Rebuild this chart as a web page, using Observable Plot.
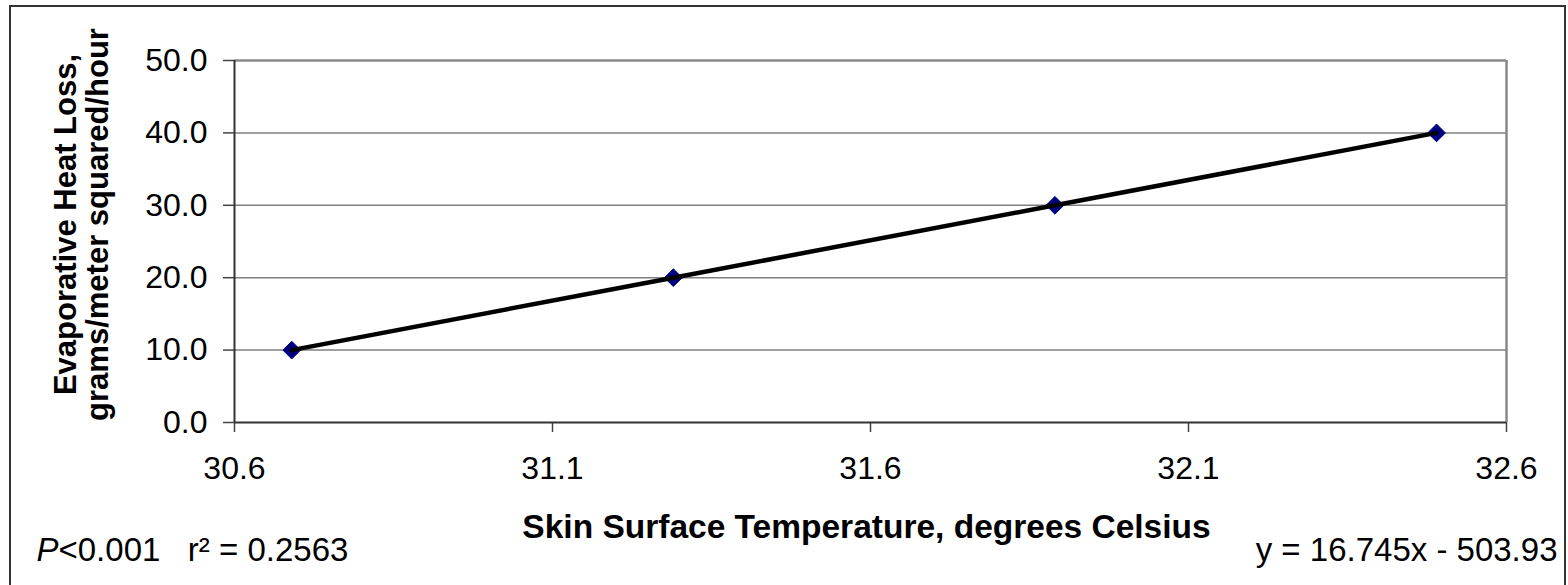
<!DOCTYPE html>
<html>
<head>
<meta charset="utf-8">
<script src="https://cdn.jsdelivr.net/npm/d3@7"></script>
<script src="https://cdn.jsdelivr.net/npm/@observablehq/plot@0.6"></script>
<style>
  html, body { margin: 0; padding: 0; background: #fff; }
  #wrap { position: relative; width: 1568px; height: 585px; overflow: hidden; }
  #border { position: absolute; left: 9px; top: 5px; width: 1553px; height: 600px;
            border: 2px solid #333; pointer-events: none; }
</style>
</head>
<body>
<div id="wrap"><div id="border"></div></div>
<script>
// Data
const temperature = [30.69, 31.29, 31.89, 32.49];
const heatLoss = [10, 20, 30, 40];
const xTicks = [30.6, 31.1, 31.6, 32.1, 32.6];
const yTicks = [0, 10, 20, 30, 40, 50];
const xTitle = "Skin Surface Temperature, degrees Celsius";
const yTitle = "Evaporative Heat Loss,\ngrams/meter squared/hour";
const statsP = "P";
const statsRest = "<0.001   r² = 0.2563";
const equation = "y = 16.745x - 503.93";

const data = temperature.map((t, i) => ({x: t, y: heatLoss[i]}));
const fmt = d => d.toFixed(1);

const chart = Plot.plot({
  width: 1568,
  height: 585,
  marginLeft: 234,
  marginRight: 62,
  marginTop: 60,
  marginBottom: 163,
  style: {fontFamily: "'Liberation Sans', Arial, sans-serif", fontSize: "32px", color: "#000", background: "transparent"},
  x: {domain: [30.6, 32.6]},
  y: {domain: [0, 50]},
  marks: [
    Plot.gridY(yTicks.slice(1, -1), {stroke: "#808080", strokeOpacity: 1, strokeWidth: 1.5}),
    Plot.ruleY([50], {stroke: "#888", strokeWidth: 2.5}),
    Plot.ruleX([32.6], {stroke: "#888", strokeWidth: 2.5}),
    Plot.axisY({ticks: yTicks, tickSize: 11, tickPadding: 16, tickFormat: fmt, label: null, stroke: "#444", strokeWidth: 1.5, fontSize: 32}),
    Plot.axisX({ticks: xTicks, tickSize: 10, tickPadding: 24, tickFormat: fmt, label: null, stroke: "#444", strokeWidth: 1.5, fontSize: 32}),
    Plot.ruleX([30.6], {stroke: "#333", strokeWidth: 2}),
    Plot.ruleY([0], {stroke: "#333", strokeWidth: 2}),
    Plot.dot(data, {x: "x", y: "y", symbol: "diamond2", r: 8, fill: "#000080", stroke: "#000080", strokeWidth: 1}),
    Plot.line(data, {x: "x", y: "y", stroke: "#000", strokeWidth: 4.5}),
    Plot.text([xTitle], {frameAnchor: "bottom", dx: -4, dy: 115, lineAnchor: "bottom", textAnchor: "middle", fontWeight: "bold", fontSize: 33.5}),
    Plot.text([yTitle], {frameAnchor: "left", dx: -153, dy: -17, rotate: -90, textAnchor: "middle", lineAnchor: "middle", lineHeight: 1.06, fontWeight: "bold", fontSize: 31}),
    Plot.text([statsP], {frameAnchor: "bottom-left", dx: -198, dy: 138, lineAnchor: "bottom", textAnchor: "start", fontStyle: "italic", fontSize: 33}),
    Plot.text([statsRest], {frameAnchor: "bottom-left", dx: -176, dy: 138, lineAnchor: "bottom", textAnchor: "start", fontSize: 33}),
    Plot.text([equation], {frameAnchor: "bottom-right", dx: 51, dy: 138, lineAnchor: "bottom", textAnchor: "end", fontSize: 33})
  ]
});
document.getElementById("wrap").prepend(chart);
</script>
</body>
</html>
